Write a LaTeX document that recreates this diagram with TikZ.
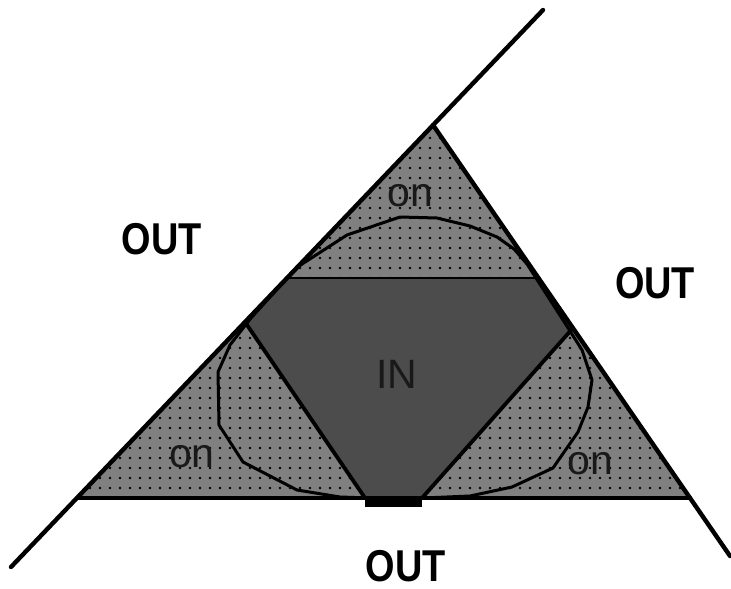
\documentclass[tikz,border=0pt]{standalone}
\usepackage{fontspec}
\setmainfont{Liberation Sans}
\usetikzlibrary{patterns.meta}

\begin{document}
\begin{tikzpicture}[
  x=0.5pt, y=-0.5pt,
  region/.style={
    fill=black!50,
    postaction={pattern={Dots[distance=5pt, radius=0.65pt]}, pattern color=black}
  },
  inner/.style={fill=black!70},
  edge/.style={line width=2.2pt, line cap=round, black},
  cut/.style={line width=1.9pt, black},
  chord/.style={line width=1pt, black},
  curve/.style={line width=1.5pt, black, line join=round},
  outlbl/.style={font=\fontsize{22.3}{24}\selectfont\bfseries, inner sep=0pt},
  onlbl/.style={font=\fontsize{20.5}{22}\selectfont, black!90, inner sep=0pt}
]

\useasboundingbox (0,0) rectangle (731,588);

%% ── Triangle corners and line ends ──────────────────────────────────
\coordinate (apex) at (433,125);
\coordinate (bl)   at (77,498);
\coordinate (br)   at (690,498);
\coordinate (topend) at (543,10);
\coordinate (lowL) at (11,567);
\coordinate (lowR) at (730,556);

%% ── IN region corners ───────────────────────────────────────────────
\coordinate (inTL) at (289,278);
\coordinate (inTR) at (538,278);
\coordinate (inR)  at (573,328);
\coordinate (inBR) at (422,498);
\coordinate (inBL) at (365,498);
\coordinate (inL)  at (245,322);

%% ── Fills ───────────────────────────────────────────────────────────
\fill[region] (apex) -- (br) -- (bl) -- cycle;
\fill[inner] (inTL) -- (inTR) -- (inR) -- (inBR) -- (inBL) -- (inL) -- cycle;

%% ── IN boundary ─────────────────────────────────────────────────────
\draw[chord] (inTL) -- (inTR);
\draw[cut] (inL) -- (inBL);
\draw[cut] (inR) -- (inBR);

%% ── inscribed curve (polygonal) ─────────────────────────────────────
\draw[curve]
  (400,217) -- (437,218) -- (470,226) -- (497,237) -- (514,249)
  -- (527,264) -- (545,292) -- (563,320) -- (582,350) -- (592,380)
  -- (588,407) -- (578,432) -- (553,468) -- (512,487) -- (470,496)
  -- (400,499) -- (340,497) -- (297,490) -- (243,462) -- (219,425)
  -- (218,372) -- (230,345) -- (251,318) -- (279,287) -- (299,266)
  -- (347,235) -- cycle;

%% ── Lines ───────────────────────────────────────────────────────────
\draw[edge] (topend) -- (lowL);
\draw[edge] (apex) -- (lowR);
\draw[edge] (bl) -- (br);
\draw[line width=4.5pt] ([yshift=-2pt]inBL) -- ([yshift=-2pt]inBR);

%% ── Labels ──────────────────────────────────────────────────────────
\node[outlbl] (outL) at (162,239) {\scalebox{0.85}[1]{OUT}};
\node[outlbl] (outR) at (655,283) {\scalebox{0.85}[1]{OUT}};
\node[outlbl] (outB) at (406,566) {\scalebox{0.85}[1]{OUT}};
\node[onlbl] (onT) at (410,196) {on};
\node[onlbl] (onL) at (192,457) {on};
\node[onlbl] (onR) at (590,464) {on};
\node[onlbl] (inlbl) at (397,374) {IN};

\end{tikzpicture}
\end{document}
